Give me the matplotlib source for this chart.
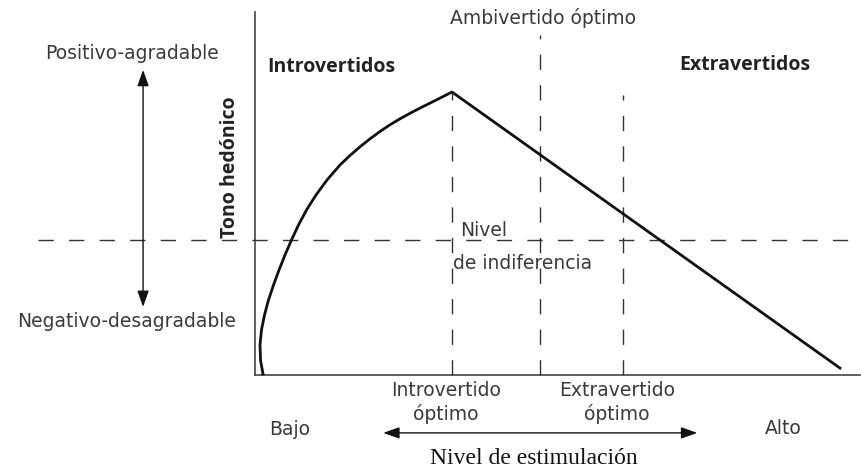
import numpy as np
import matplotlib.pyplot as plt

# hedonic tone curve (x = nivel de estimulacion, y = tono hedonico, 0 = indiferencia)
curve_x = [1.32, 0.91, 0.83, 1.07, 1.57, 2.23, 3.06, 3.97, 4.96, 6.03, 7.19, 8.51,
           10.08, 11.90, 14.05, 15.70, 17.36, 19.01, 20.66, 22.31, 23.97, 25.62,
           27.27, 28.93, 30.58, 32.56, 96.69]
curve_y = [-44.67, -40, -35, -30, -25, -20, -15, -10, -5, 0, 5, 10,
           15, 20, 25, 28.17, 31.07, 33.73, 36.17, 38.4, 40.4, 42.23,
           43.97, 45.63, 47.3, 49.33, -42.7]

# optimum stimulation levels and how high their guide lines go
opt_x = [32.6, 47.1, 60.8]
opt_top = [49.3, 68.3, 48.3]
opt_labels = ['Introvertido\nóptimo', None, 'Extravertido\nóptimo']

x_axis = [0, 100]
y_axis = [-45, 76]

plt.rcParams['font.family'] = ['DejaVu Sans']
txt = '#3a3a3a'

fig = plt.figure(figsize=(8.61, 4.68), dpi=100)
ax = fig.add_axes([0, 0, 1, 1])
ax.set_xlim(-42.15, 100.17)
ax.set_ylim(-76, 80)
ax.axis('off')

# axes
ax.plot([x_axis[0], x_axis[0]], y_axis, color='#444444', lw=1.2)
ax.plot(x_axis, [y_axis[0], y_axis[0]], color='#444444', lw=1.2)

# indifference level
ax.plot([-35.9, 100.2], [0, 0], color='#333333', lw=1.0, dashes=(11, 11))

# optimum guide lines
for xo, top in zip(opt_x, opt_top):
    ax.plot([xo, xo], [y_axis[0], top], color='#333333', lw=1.0, dashes=(11, 11))

# curve
ax.plot(curve_x, curve_y, color='#111111', lw=2.0, solid_joinstyle='round')

# arrows
ax.annotate('', xy=(-18.5, 56.7), xytext=(-18.5, -22.3),
            arrowprops=dict(arrowstyle='<|-|>,head_length=0.7,head_width=0.25',
                            color='#111111', lw=1.0,
                            mutation_scale=14, shrinkA=0, shrinkB=0))
ax.annotate('', xy=(21.2, -64.3), xytext=(73.1, -64.3),
            arrowprops=dict(arrowstyle='<|-|>,head_length=0.7,head_width=0.25',
                            color='#111111', lw=1.0,
                            mutation_scale=14, shrinkA=0, shrinkB=0))

fs = 13.5
bold = dict(family='Open Sans', fontweight='bold', color='#222222')
ax.text(-20.3, 62.3, 'Positivo-agradable', ha='center', va='center', fontsize=fs, color=txt)
ax.text(-21.2, -27.3, 'Negativo-desagradable', ha='center', va='center', fontsize=fs, color=txt)
ax.text(-4.1, 24.3, 'Tono hedónico', ha='center', va='center', rotation=90,
        fontsize=14, **bold)
ax.text(2.1, 57.7, 'Introvertidos', ha='left', va='center', fontsize=14, **bold)
ax.text(81, 58.3, 'Extravertidos', ha='center', va='center', fontsize=14, **bold)
ax.text(47.6, 74, 'Ambivertido óptimo', ha='center', va='center', fontsize=fs, color=txt)
ax.text(33.9, 3, 'Nivel', ha='left', va='center', fontsize=fs, color=txt)
ax.text(32.7, -7.7, 'de indiferencia', ha='left', va='center', fontsize=fs, color=txt)

for xo, lab in zip(opt_x, opt_labels):
    if lab:
        ax.text(xo - 1, -54.2, lab, ha='center', va='center', fontsize=fs,
                color=txt, linespacing=1.2)

ax.text(5.8, -63.3, 'Bajo', ha='center', va='center', fontsize=fs, color=txt)
ax.text(87.3, -62.7, 'Alto', ha='center', va='center', fontsize=fs, color=txt)
ax.text(46.1, -72.7, 'Nivel de estimulación', ha='center', va='center',
        fontsize=17, family='Liberation Serif', color='#111111')

fig.savefig('out.png', dpi=100)
